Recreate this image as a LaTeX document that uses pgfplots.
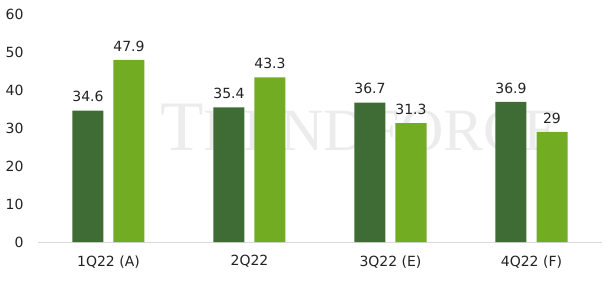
\documentclass[border=0pt]{standalone}
\usepackage{pgfplots}
\pgfplotsset{compat=1.18}
\usepackage{fontspec}
\setmainfont{DejaVu Sans}
\newfontfamily\wmfont{Liberation Serif}
\definecolor{darkg}{HTML}{3F6B35}
\definecolor{lightg}{HTML}{72AC22}
\definecolor{txt}{HTML}{222222}
\definecolor{gridc}{HTML}{D9D9D9}
\begin{document}
\begin{tikzpicture}
\node[anchor=base west, inner sep=0, text=gray!15] at (122pt,92pt) {\wmfont\fontsize{71}{71}\selectfont T\fontsize{60}{60}\selectfont RENDFORCE};
\begin{axis}[
  at={(0,0)}, anchor=south west,
  width=564pt, height=228pt, scale only axis,
  ymin=0, ymax=60, ytick={0,10,...,60},
  xmin=-0.5, xmax=3.5, xtick={0,1,2,3},
  xticklabels={1Q22 (A),2Q22,3Q22 (E),4Q22 (F)},
  axis x line*=bottom,
  x axis line style={draw=gridc, line width=1pt},
  y axis line style={draw=none},
  major tick length=0,
  tick label style={font=\fontsize{14}{14}\selectfont, text=txt},
  yticklabel style={xshift=-11pt},
  xticklabel style={yshift=-10pt},
  /pgf/number format/assume math mode=true,
  ybar=10pt, bar width=31pt,
  nodes near coords,
  nodes near coords style={font=\fontsize{14}{14}\selectfont, text=txt, yshift=5pt},
  clip=false,
]
\addplot[fill=darkg, draw=none] coordinates {(0,34.6) (1,35.4) (2,36.7) (3,36.9)};
\addplot[fill=lightg, draw=none] coordinates {(0,47.9) (1,43.3) (2,31.3) (3,29)};
\end{axis}
\pgfresetboundingbox
\path (-38pt,-45pt) rectangle (570pt,242pt);
\end{tikzpicture}
\end{document}
